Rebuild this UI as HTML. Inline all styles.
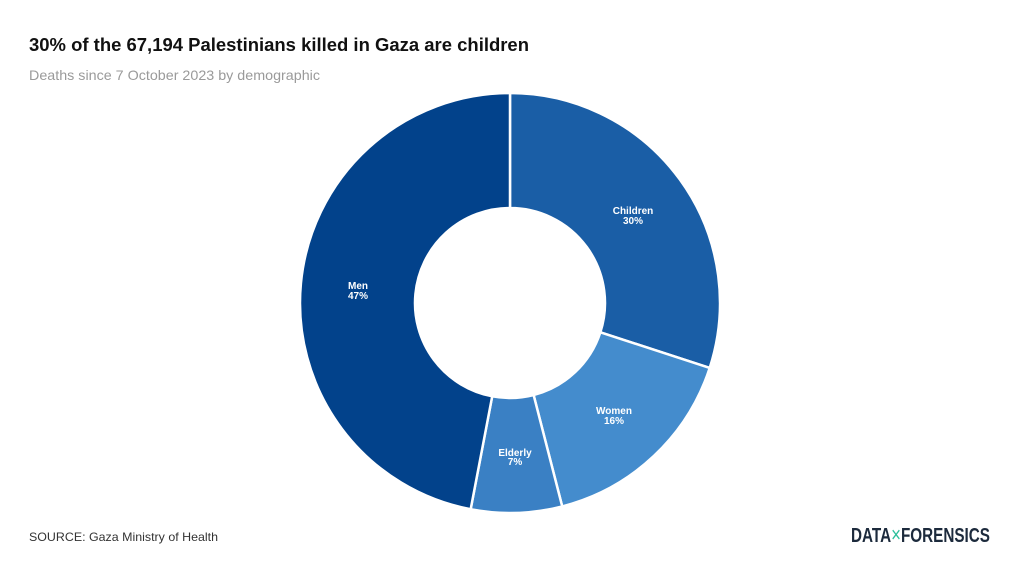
<!DOCTYPE html>
<html>
<head>
<meta charset="utf-8">
<style>
  html, body { margin:0; padding:0; background:#ffffff; }
  body { width:1020px; height:576px; overflow:hidden; }
  svg { display:block; }
  text { font-family: "Liberation Sans", sans-serif; }
</style>
</head>
<body>
<svg width="1020" height="576" viewBox="0 0 1020 576" xmlns="http://www.w3.org/2000/svg">
  <rect width="1020" height="576" fill="#ffffff"/>
  <text x="29" y="51" font-size="18" font-weight="bold" fill="#111111" textLength="500" lengthAdjust="spacingAndGlyphs">30% of the 67,194 Palestinians killed in Gaza are children</text>
  <text x="29" y="80" font-size="14" fill="#9a9a9a" textLength="291" lengthAdjust="spacingAndGlyphs">Deaths since 7 October 2023 by demographic</text>

  <g stroke="#ffffff" stroke-width="2.5" stroke-linejoin="round">
    <path d="M510,93 A210,210 0 0 1 709.72,367.89 L600.35,332.36 A95,95 0 0 0 510,208 Z" fill="#1a5ea6"/>
    <path d="M709.72,367.89 A210,210 0 0 1 562.22,506.40 L533.63,395.02 A95,95 0 0 0 600.35,332.36 Z" fill="#448ccd"/>
    <path d="M562.22,506.40 A210,210 0 0 1 470.65,509.28 L492.20,396.32 A95,95 0 0 0 533.63,395.02 Z" fill="#3a80c4"/>
    <path d="M470.65,509.28 A210,210 0 0 1 510,93 L510,208 A95,95 0 0 0 492.20,396.32 Z" fill="#02428b"/>
  </g>

  <g font-size="10" font-weight="bold" fill="#ffffff" text-anchor="middle">
    <text x="633" y="214">Children</text>
    <text x="633" y="224">30%</text>
    <text x="614" y="414">Women</text>
    <text x="614" y="424">16%</text>
    <text x="515" y="456">Elderly</text>
    <text x="515" y="465">7%</text>
    <text x="358" y="289">Men</text>
    <text x="358" y="299">47%</text>
  </g>

  <text x="29" y="541" font-size="12" fill="#333333" textLength="189" lengthAdjust="spacingAndGlyphs">SOURCE: Gaza Ministry of Health</text>

  <text x="851" y="542" font-family="Liberation Sans Narrow, Liberation Sans, sans-serif" font-size="20" font-weight="bold" fill="#1c2a3c" textLength="139" lengthAdjust="spacingAndGlyphs">DATA<tspan fill="#2bbf9b" font-size="22" font-weight="normal">×</tspan>FORENSICS</text>
</svg>
</body>
</html>
